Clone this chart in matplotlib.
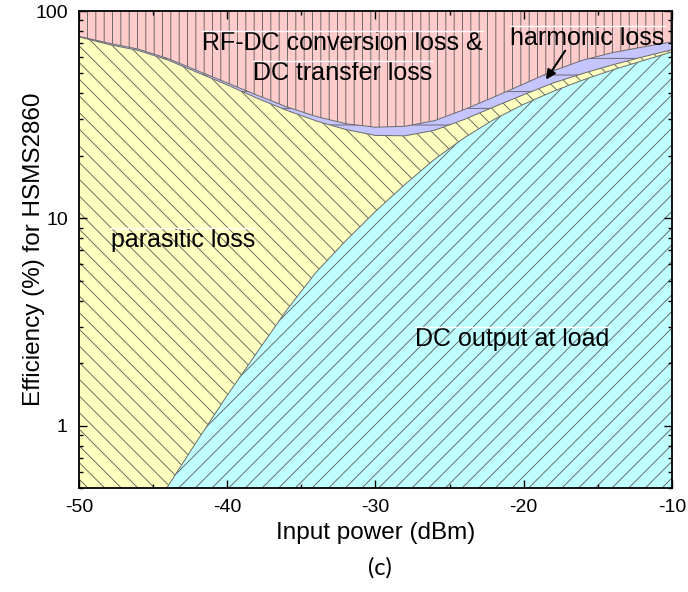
import matplotlib as mpl
mpl.use('Agg')
import matplotlib.pyplot as plt
from matplotlib.lines import Line2D
import numpy as np

# input power grid (dBm)
input_power = [-50, -48, -46, -44, -42, -40, -38, -36, -34, -32, -30,
               -28, -26, -24, -22, -20, -18, -16, -14, -12, -10]

# cumulative efficiency levels (%)
dc_output = [0.13, 0.2, 0.32, 0.51, 0.85, 1.4, 2.25, 3.6, 5.5, 7.8, 10.8,
             14.6, 19.3, 24.5, 30.0, 35.5, 41.0, 46.5, 52.0, 57.5, 63.5]
dc_plus_parasitic = [75, 69, 64.5, 58, 50.5, 44, 38, 33.2, 29.5, 26.8, 25.1,
                     25.0, 26.6, 30, 34.5, 39.5, 45, 50, 55, 60, 65]
plus_harmonic = [75.5, 70, 65.5, 59, 51.5, 45, 39.3, 34.5, 31, 28.6, 27.5,
                 27.8, 29.6, 33.5, 38.5, 44.5, 51.5, 58, 63, 67, 71]
top_level = 100

x_ticks = [-50, -40, -30, -20, -10]
y_ticks = [1, 10, 100]

plt.rcParams['font.family'] = ['Liberation Sans', 'DejaVu Sans']
plt.rcParams['hatch.linewidth'] = 0.6

fig = plt.figure(figsize=(6.88, 5.92), dpi=100)
ax = fig.add_axes([0.1148, 0.1757, 0.8619, 0.8057])

x = np.array(input_power)
hatch_col = '#5a5a5a'

ax.fill_between(x, 0.01, dc_output, facecolor='#bfffff', edgecolor=hatch_col,
                hatch='//', linewidth=0)
ax.fill_between(x, dc_output, dc_plus_parasitic, facecolor='#ffffbf', edgecolor=hatch_col,
                hatch='\\\\', linewidth=0)
ax.fill_between(x, dc_plus_parasitic, plus_harmonic, facecolor='#c4c4ff', edgecolor=hatch_col,
                hatch='-', linewidth=0)
ax.fill_between(x, plus_harmonic, top_level, facecolor='#ffcccc', edgecolor=hatch_col,
                hatch='||', linewidth=0)

for curve in (dc_output, dc_plus_parasitic, plus_harmonic):
    ax.plot(x, curve, color='#6a6a6a', linewidth=0.7)

ax.set_yscale('log')
ax.set_xlim(-50, -10)
ax.set_ylim(0.5, 100)

ax.set_xticks(x_ticks)
ax.set_xticklabels([str(t) for t in x_ticks])
ax.xaxis.set_minor_locator(mpl.ticker.MultipleLocator(5))
ax.yaxis.set_major_locator(mpl.ticker.FixedLocator(y_ticks))
ax.yaxis.set_major_formatter(mpl.ticker.FixedFormatter([str(t) for t in y_ticks]))
ax.yaxis.set_minor_locator(mpl.ticker.LogLocator(base=10, subs=np.arange(2, 10)))
ax.yaxis.set_minor_formatter(mpl.ticker.NullFormatter())

ax.tick_params(which='both', direction='in', top=True, right=True, labelsize=14)
ax.tick_params(axis='x', pad=8)
ax.tick_params(axis='y', pad=8)
ax.tick_params(which='major', length=6, width=1)
ax.tick_params(which='minor', length=3, width=1)
for s in ax.spines.values():
    s.set_linewidth(1.3)

ax.set_xlabel('Input power (dBm)', fontsize=17.5, labelpad=4)
ax.set_ylabel('Efficiency (%) for HSMS2860', fontsize=17.5, labelpad=-7)

labels = [
    ax.text(-32.2, 64.8, 'RF-DC conversion loss &', fontsize=18, ha='center', va='baseline'),
    ax.text(-32.2, 46.5, 'DC transfer loss', fontsize=18, ha='center', va='baseline'),
    ax.text(-15.7, 68.5, 'harmonic loss', fontsize=18, ha='center', va='baseline'),
    ax.text(-43.0, 7.27, 'parasitic loss', fontsize=18, ha='center', va='baseline'),
    ax.text(-20.8, 2.42, 'DC output at load', fontsize=18, ha='center', va='baseline'),
]

ax.annotate('', xy=(-18.6, 45.5), xytext=(-17.1, 66),
            arrowprops=dict(arrowstyle='-|>', color='black', lw=1.5, mutation_scale=14))

fig.text(0.552, 0.04, '(c)', fontsize=17, ha='center', va='center', family='Lato')

# thin white strokes sitting just above each label, as in the original
fig.canvas.draw()
renderer = fig.canvas.get_renderer()
for t in labels:
    bb = t.get_window_extent(renderer)
    fig.add_artist(Line2D([bb.x0, bb.x1], [bb.y1, bb.y1], color='white', linewidth=1,
                          transform=mpl.transforms.IdentityTransform()))

fig.savefig('out.png', dpi=100)
